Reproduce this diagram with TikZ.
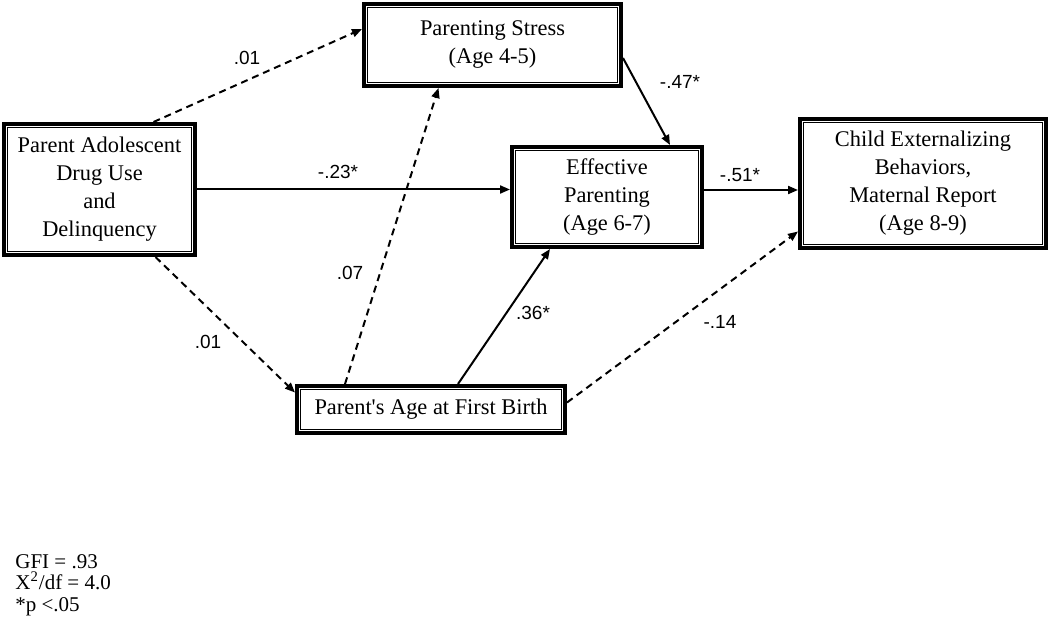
\documentclass[tikz,border=0pt]{standalone}
\usepackage{fontspec}
\setmainfont{Liberation Serif}[Ligatures=TeXOff]
\newfontfamily\labelfont{Liberation Sans}
\usetikzlibrary{arrows.meta}

\begin{document}
\begin{tikzpicture}[x=0.5pt, y=-0.5pt,
    box/.style={draw, line width=1.8pt, fill=white, align=center, inner sep=0pt,
      font={\fontsize{11.2}{14}\selectfont},
      path picture={\draw[line width=0.6pt]
        ([shift={(2pt,-2pt)}]path picture bounding box.north west) rectangle
        ([shift={(-2pt,2pt)}]path picture bounding box.south east);}},
    pathline/.style={line width=1pt, -{Triangle[length=5pt,width=4pt]}},
    pathdash/.style={pathline, dash pattern=on 3.5pt off 2.5pt},
    coef/.style={font={\labelfont\fontsize{9.5}{10}\selectfont}, inner sep=0pt}]
  \useasboundingbox (0,0) rectangle (1050,620);
  % constructs
  \node[box, minimum width=95.7pt, minimum height=65.7pt] (dru) at (99.5,189.5)
    {Parent Adolescent\\Drug Use\\and\\Delinquency};
  \node[box, minimum width=128.7pt, minimum height=41.2pt] (pst) at (492.5,45)
    {Parenting Stress\\(Age 4-5)};
  \node[box, minimum width=95.2pt, minimum height=50.2pt] (efp) at (607,197)
    {Effective\\Parenting\\(Age 6-7)};
  \node[box, minimum width=123.2pt, minimum height=64.7pt] (che) at (923,183.5)
    {Child Externalizing\\Behaviors,\\Maternal Report\\(Age 8-9)};
  \node[box, minimum width=134.2pt, minimum height=23.7pt] (age) at (431,409.5)
    {Parent's Age at First Birth};
  % paths
  \draw[pathdash] ([xshift=27pt]dru.north) -- ([yshift=8pt]pst.west);
  \draw[pathline] (dru.east) -- (dru.east -| efp.west);
  \draw[pathdash] ([xshift=28pt]dru.south) -- ([yshift=8.5pt]age.west);
  \draw[pathdash] ([xshift=-43pt]age.north) -- ([xshift=-27pt]pst.south);
  \draw[pathline] ([yshift=-6.5pt]pst.east) -- ([xshift=31.5pt]efp.north);
  \draw[pathline] ([yshift=3.5pt]efp.east) -- ([yshift=3.5pt]efp.east -| che.west);
  \draw[pathline] ([xshift=13.5pt]age.north) -- ([xshift=-28.5pt]efp.south);
  \draw[pathdash] ([yshift=3.5pt]age.east) -- ([yshift=-24pt]che.west);
  % path coefficients
  \foreach \t/\x/\y [count=\n] in {.01/247/58, -.23*/338/172, .01/208/342, .07/350/273,
      .36*/533/313, -.47*/680/82, -.51*/740/175, -.14/720/322} {
    \node[coef] (coef\n) at (\x,\y) {\t};
  }
  % fit indices
  \node[anchor=north west, align=left, inner sep=0pt,
    font={\fontsize{10.5}{10.75}\selectfont}] (fit) at (15,554)
    {GFI = .93\\X\textsuperscript{2}/df = 4.0\\*p <.05};
\end{tikzpicture}
\end{document}
